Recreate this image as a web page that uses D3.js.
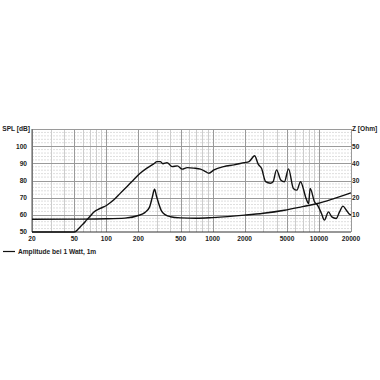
<!DOCTYPE html>
<html>
<head>
<meta charset="utf-8">
<script src="https://cdn.jsdelivr.net/npm/d3@7"></script>
<style>
  body { margin: 0; background: #fff; }
  text { font-family: "Liberation Sans", Arial, sans-serif; font-weight: bold; fill: #222; }
</style>
</head>
<body>
<svg id="chart"></svg>
<script>
// frequency axis labels
const freqTicks = [20, 50, 100, 200, 500, 1000, 2000, 5000, 10000, 20000];
const splTicks = [50, 60, 70, 80, 90, 100];
const ohmTicks = [10, 20, 30, 40, 50];

// SPL curve [Hz, dB]
const splData = [
  [20, 50], [40, 50], [50, 50], [55, 52], [59, 54], [61, 54.9], [65, 56.9], [70, 59], [76.5, 61.7],
  [87.5, 63.7], [101, 65.6], [117, 68.6], [135, 72.5], [156, 76.4], [180, 80.3],
  [208, 84.2], [241, 87.2], [279, 89.7], [300, 91], [322, 91], [340, 89.8], [372, 90.4],
  [416, 88.1], [465, 88.5], [517, 86.6], [577, 87.5], [664, 87.2], [768, 86.6],
  [857, 85.2], [920, 84.2], [1030, 86.2], [1270, 88.1], [1590, 89.1], [1980, 90.4],
  [2200, 91], [2480, 94.4], [2680, 89.5], [2880, 87.1], [3150, 79.3], [3490, 78.4],
  [3700, 79.3], [3990, 86.2], [4370, 80.3], [4730, 79.3], [5170, 86.8], [5740, 75.4],
  [6200, 74.4], [6700, 79.3], [7560, 69.6], [7980, 66.6], [8260, 75.4], [9070, 67.6],
  [9680, 65.6], [10550, 60.8], [11240, 56.9], [12280, 61.7], [13200, 58.8],
  [14500, 57.9], [15600, 61.7], [16800, 65.1], [18100, 62.7], [19500, 60.2], [20000, 60]
];

// impedance curve [Hz, Ohm]
const ohmData = [
  [20, 7.4], [50, 7.5], [100, 7.7], [150, 8.1], [200, 9.6], [230, 11.3], [255, 14.5],
  [270, 20], [284, 24.9], [296, 21], [311, 16.6], [330, 12.3], [360, 10], [400, 8.9],
  [500, 8.2], [700, 8], [1000, 8.4], [2000, 9.8], [3000, 10.9], [4730, 12.7],
  [7000, 14.8], [9680, 16.6], [14000, 19.6], [20000, 22.8]
];

const legendLabel = "Amplitude bei 1 Watt, 1m";

const W = 380, H = 380;
const pLeft = 32, pRight = 351, pTop = 129, pBottom = 232;

const svg = d3.select("#chart").attr("width", W).attr("height", H);

const x = d3.scaleLog().domain([20, 20000]).range([pLeft, pRight]);
const y = d3.scaleLinear().domain([50, 110]).range([pBottom, pTop]);
const yZ = d3.scaleLinear().domain([0, 60]).range([pBottom, pTop]);

// minor vertical grid (1..9 per decade)
const minorF = [];
[10, 100, 1000, 10000].forEach(dec => {
  for (let k = 1; k <= 9; k++) {
    const f = dec * k;
    if (f >= 20 && f <= 20000) minorF.push(f);
  }
});

const grid = svg.append("g");

// minor horizontal lines every 2 dB
grid.selectAll(".hminor")
  .data(d3.range(50, 111, 2).filter(v => v % 10 !== 0))
  .enter().append("line")
  .attr("x1", pLeft).attr("x2", pRight)
  .attr("y1", d => y(d)).attr("y2", d => y(d))
  .attr("stroke", "#dedede").attr("stroke-width", 1)
  .attr("stroke-dasharray", "2,1");

grid.selectAll(".vminor")
  .data(minorF)
  .enter().append("line")
  .attr("x1", d => Math.round(x(d)) + 0.5).attr("x2", d => Math.round(x(d)) + 0.5)
  .attr("y1", pTop).attr("y2", pBottom)
  .attr("stroke", d => freqTicks.includes(d) ? "#9a9a9a" : "#cdcdcd")
  .attr("stroke-width", 1);

grid.selectAll(".hmajor")
  .data(d3.range(60, 111, 10))
  .enter().append("line")
  .attr("x1", pLeft).attr("x2", pRight)
  .attr("y1", d => Math.round(y(d)) + 0.5).attr("y2", d => Math.round(y(d)) + 0.5)
  .attr("stroke", "#9a9a9a").attr("stroke-width", 1);

// frame: left + bottom axes
svg.append("line").attr("x1", pLeft).attr("x2", pLeft).attr("y1", pTop).attr("y2", pBottom)
  .attr("stroke", "#555").attr("stroke-width", 1);
svg.append("line").attr("x1", pLeft).attr("x2", pRight).attr("y1", pBottom).attr("y2", pBottom)
  .attr("stroke", "#333").attr("stroke-width", 1.2);

// curves
const line = d3.line().curve(d3.curveMonotoneX);

svg.append("path")
  .attr("d", line(ohmData.map(d => [x(d[0]), yZ(d[1])])))
  .attr("fill", "none").attr("stroke", "#111").attr("stroke-width", 1.4);

svg.append("path")
  .attr("d", line(splData.map(d => [x(d[0]), y(d[1])])))
  .attr("fill", "none").attr("stroke", "#111").attr("stroke-width", 1.4);

// axis labels
const fs = "6.6px";
svg.append("g").selectAll("text")
  .data(freqTicks).enter().append("text")
  .attr("x", d => x(d)).attr("y", 240.5)
  .attr("text-anchor", "middle").style("font-size", fs)
  .text(d => d);

svg.append("g").selectAll("text")
  .data(splTicks).enter().append("text")
  .attr("x", 27).attr("y", d => y(d) + 2.4)
  .attr("text-anchor", "end").style("font-size", fs)
  .text(d => d);

svg.append("g").selectAll("text")
  .data(ohmTicks).enter().append("text")
  .attr("x", 352).attr("y", d => yZ(d) + 2.4)
  .attr("text-anchor", "start").style("font-size", fs)
  .text(d => d);

svg.append("text").attr("x", 30).attr("y", pTop + 2.4)
  .attr("text-anchor", "end").style("font-size", fs).text("SPL [dB]");
svg.append("text").attr("x", 352).attr("y", pTop + 2.4)
  .attr("text-anchor", "start").style("font-size", fs).text("Z [Ohm]");

// legend
svg.append("line").attr("x1", 3).attr("x2", 15).attr("y1", 251.5).attr("y2", 251.5)
  .attr("stroke", "#111").attr("stroke-width", 1.2);
svg.append("text").attr("x", 18).attr("y", 254)
  .style("font-size", fs).text(legendLabel);
</script>
</body>
</html>
